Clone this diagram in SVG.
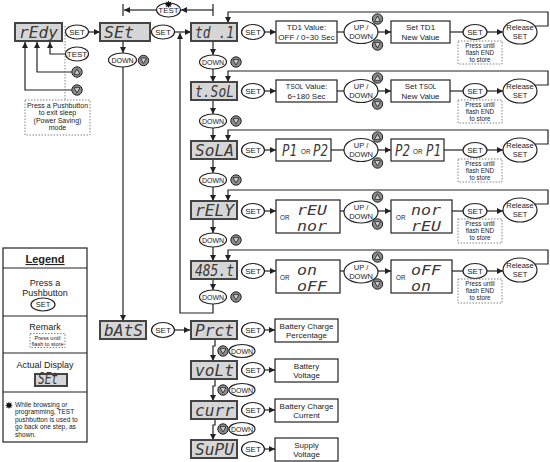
<svg xmlns="http://www.w3.org/2000/svg" width="550" height="462" viewBox="0 0 550 462">
<defs>
<marker id="ah" markerUnits="userSpaceOnUse" viewBox="0 0 10 10" refX="10" refY="5" markerWidth="6" markerHeight="6" orient="auto"><path d="M0,0L10,5L0,10z" fill="#222"/></marker>
<g id="bu"><circle r="5.2" fill="#8a8a8a" stroke="#222" stroke-width="1"/><path d="M-3,2.4L3,2.4L0,-3z" fill="#cfcfcf" stroke="#222" stroke-width="0.8"/></g>
<g id="bd"><circle r="5.2" fill="#8a8a8a" stroke="#222" stroke-width="1"/><path d="M-3,-2.4L3,-2.4L0,3z" fill="#cfcfcf" stroke="#222" stroke-width="0.8"/></g>
</defs>
<style>
.ln{stroke:#222;stroke-width:1.2;fill:none}
.el{fill:#fff;stroke:#222;stroke-width:1.2}
.bx{fill:#fff;stroke:#222;stroke-width:1.2}
.disp{fill:#d6d6d6;stroke:#444;stroke-width:2}
.dash{fill:#fff;stroke:#666;stroke-width:0.8;stroke-dasharray:1.5 1.5}
.t{font-family:"Liberation Sans",Arial,sans-serif;fill:#222;text-anchor:middle}
.tl{font-family:"Liberation Sans",Arial,sans-serif;fill:#222;text-anchor:start}
.s8{font-size:8px}.s75{font-size:7.5px}.s7{font-size:7px}.s6{font-size:6.3px}
.seg{font-family:"DejaVu Sans Mono",monospace;font-style:italic;fill:#3a3a3a;font-size:15px}
.segm{font-family:"DejaVu Sans Mono",monospace;font-style:italic;fill:#3a3a3a;font-size:14px}
</style>

<g id="connectors" class="ln">
<path d="M88.5,32H100" marker-end="url(#ah)"/>
<path d="M65.5,54H50V42" marker-end="url(#ah)"/>
<path d="M71.8,72H37V42" marker-end="url(#ah)"/>
<path d="M71.8,90H25V42" marker-end="url(#ah)"/>
<path d="M174.5,32H191" marker-end="url(#ah)"/>
<path d="M123,41V53" marker-end="url(#ah)"/>
<path d="M123,67V321" marker-end="url(#ah)"/>
<path d="M213,4V16M123,4V16"/>
<path d="M213,10H181" marker-end="url(#ah)"/>
<path d="M156,10H124" marker-end="url(#ah)"/>
<path d="M213,304V313H180V33" marker-end="url(#ah)"/>
<path d="M213,41V55" marker-end="url(#ah)"/>
<path d="M213,69V82" marker-end="url(#ah)"/>
<path d="M213,100V114" marker-end="url(#ah)"/>
<path d="M213,128V141" marker-end="url(#ah)"/>
<path d="M213,159V173" marker-end="url(#ah)"/>
<path d="M213,187V201" marker-end="url(#ah)"/>
<path d="M213,219V233" marker-end="url(#ah)"/>
<path d="M213,247V261" marker-end="url(#ah)"/>
<path d="M213,279V290" marker-end="url(#ah)"/>
<path d="M535,26H548V12H228V23" marker-end="url(#ah)"/>
<path d="M535,85H548V71H228V82" marker-end="url(#ah)"/>
<path d="M535,144H548V130H228V141" marker-end="url(#ah)"/>
<path d="M535,204H548V190H228V201" marker-end="url(#ah)"/>
<path d="M535,264H548V250H228V261" marker-end="url(#ah)"/>
<path d="M264.5,32H276" marker-end="url(#ah)"/><path d="M337,32H344"/><path d="M378,32H391" marker-end="url(#ah)"/><path d="M450,32H463"/><path d="M487,32H503" marker-end="url(#ah)"/>
<path d="M264.5,91H276" marker-end="url(#ah)"/><path d="M337,91H344"/><path d="M378,91H391" marker-end="url(#ah)"/><path d="M450,91H463"/><path d="M487,91H503" marker-end="url(#ah)"/>
<path d="M264.5,150H276" marker-end="url(#ah)"/><path d="M331,150H344"/><path d="M378,150H391" marker-end="url(#ah)"/><path d="M444,150H463"/><path d="M487,150H503" marker-end="url(#ah)"/>
<path d="M264.5,211H276" marker-end="url(#ah)"/><path d="M340,211H344"/><path d="M378,211H391" marker-end="url(#ah)"/><path d="M452,211H463"/><path d="M487,211H503" marker-end="url(#ah)"/>
<path d="M264.5,271H276" marker-end="url(#ah)"/><path d="M340,271H344"/><path d="M378,271H391" marker-end="url(#ah)"/><path d="M452,271H463"/><path d="M487,271H503" marker-end="url(#ah)"/>
<path d="M174.5,330H190" marker-end="url(#ah)"/>
<path d="M264.5,330H275" marker-end="url(#ah)"/>
<path d="M264.5,370H275" marker-end="url(#ah)"/>
<path d="M264.5,410H275" marker-end="url(#ah)"/>
<path d="M264.5,449H275" marker-end="url(#ah)"/>
<path d="M215,339V346H213V361" marker-end="url(#ah)"/>
<path d="M215,379V386H213V401" marker-end="url(#ah)"/>
<path d="M215,419V425H213V440" marker-end="url(#ah)"/>
</g>

<g id="n-rEdy"><rect class="disp" x="15" y="23" width="47" height="18"/><text class="seg" x="19" y="37.5" textLength="39" lengthAdjust="spacingAndGlyphs">rEdy</text></g>
<g id="n-set-a"><ellipse class="el" cx="77" cy="32" rx="11.5" ry="7"/><text class="t s8" x="77" y="34.8">SET</text></g>
<g id="n-test-a"><ellipse class="el" cx="77" cy="54" rx="11.5" ry="7"/><text class="t s8" x="77" y="56.8">TEST</text></g>
<g id="n-up-a"><use href="#bu" x="77" y="72"/></g>
<g id="n-down-a"><use href="#bd" x="77" y="90"/></g>
<g id="n-sleep-note"><path class="dash" d="M65,26V100" fill="none"/><rect class="dash" x="25" y="100" width="65" height="35"/>
<text class="t s7" x="57.5" y="107.5">Press a Pushbutton</text><text class="t s7" x="57.5" y="115">to exit sleep</text><text class="t s7" x="57.5" y="122.5">(Power Saving)</text><text class="t s7" x="57.5" y="130">mode</text></g>

<g id="n-SEt"><rect class="disp" x="100" y="23" width="50" height="18"/><text class="seg" x="104" y="37.5" textLength="30" lengthAdjust="spacingAndGlyphs">SEt</text></g>
<g id="n-set-b"><ellipse class="el" cx="163" cy="32" rx="11.5" ry="7"/><text class="t s8" x="163" y="34.8">SET</text></g>
<g id="n-down-b"><ellipse class="el" cx="122.5" cy="60" rx="14" ry="7"/><text class="t s7" x="122.5" y="62.5">DOWN</text><use href="#bd" x="143.5" y="60.5"/></g>
<g id="n-test-b"><ellipse class="el" cx="168.5" cy="10" rx="12" ry="7"/><text class="t s8" x="168.5" y="12.8">TEST</text>
<path d="M168.5,0.5L169.3,2.4L171.3,1.6L170.5,3.5L172.4,4.3L170.5,5.1L171.3,7L169.3,6.2L168.5,8.1L167.7,6.2L165.7,7L166.5,5.1L164.6,4.3L166.5,3.5L165.7,1.6L167.7,2.4z" fill="#111"/></g>

<g id="n-td1"><rect class="disp" x="191" y="23" width="46" height="18"/><text class="seg" x="195" y="37.5" textLength="39" lengthAdjust="spacingAndGlyphs">td .1</text></g>
<g id="n-td1-set"><ellipse class="el" cx="253" cy="32" rx="11.5" ry="7.5"/><text class="t s8" x="253" y="34.8">SET</text></g>
<g id="n-td1-val"><rect class="bx" x="276" y="21" width="61" height="22"/><text class="t s8" x="306.5" y="30">TD1 Value:</text><text class="t s8" x="306.5" y="39.5">OFF / 0÷30 Sec</text></g>
<g id="n-td1-ud"><ellipse class="el" cx="361" cy="32" rx="17" ry="11.5"/><text class="t s75" x="361" y="30">UP /</text><text class="t s75" x="361" y="38.5">DOWN</text><use href="#bu" x="377.5" y="19"/><use href="#bd" x="377.5" y="45"/></g>
<g id="n-td1-new"><rect class="bx" x="391" y="21" width="59" height="22"/><text class="t s8" x="420.5" y="30">Set TD1</text><text class="t s8" x="420.5" y="39.5">New Value</text></g>
<g id="n-td1-set2"><ellipse class="el" cx="475" cy="32" rx="12" ry="7.5"/><text class="t s8" x="475" y="34.8">SET</text></g>
<g id="n-td1-rel"><ellipse class="el" cx="520" cy="32" rx="17" ry="12"/><text class="t s75" x="520" y="30">Release</text><text class="t s75" x="520" y="38.5">SET</text></g>
<g id="n-td1-note"><rect class="dash" x="458" y="41" width="44" height="23"/><text class="t s6" x="480" y="47.5">Press until</text><text class="t s6" x="480" y="54.5">flash END</text><text class="t s6" x="480" y="61.5">to store</text></g>
<g id="n-td1-down"><ellipse class="el" cx="213" cy="62" rx="13.5" ry="7"/><text class="t s7" x="213" y="64.5">DOWN</text><use href="#bd" x="236" y="62"/></g>

<g id="n-tsol"><rect class="disp" x="191" y="82" width="46" height="18"/><text class="seg" x="195" y="96.5" textLength="39" lengthAdjust="spacingAndGlyphs">t.SoL</text></g>
<g id="n-tsol-set"><ellipse class="el" cx="253" cy="91" rx="11.5" ry="7.5"/><text class="t s8" x="253" y="93.8">SET</text></g>
<g id="n-tsol-val"><rect class="bx" x="276" y="80" width="61" height="22"/><text class="t s8" x="306.5" y="89">T<tspan font-size="6.3">SOL</tspan> Value:</text><text class="t s8" x="306.5" y="98.5">6÷180 Sec</text></g>
<g id="n-tsol-ud"><ellipse class="el" cx="361" cy="91" rx="17" ry="11.5"/><text class="t s75" x="361" y="89">UP /</text><text class="t s75" x="361" y="97.5">DOWN</text><use href="#bu" x="377.5" y="78"/><use href="#bd" x="377.5" y="104"/></g>
<g id="n-tsol-new"><rect class="bx" x="391" y="80" width="59" height="22"/><text class="t s8" x="420.5" y="89">Set T<tspan font-size="6.3">SOL</tspan></text><text class="t s8" x="420.5" y="98.5">New Value</text></g>
<g id="n-tsol-set2"><ellipse class="el" cx="475" cy="91" rx="12" ry="7.5"/><text class="t s8" x="475" y="93.8">SET</text></g>
<g id="n-tsol-rel"><ellipse class="el" cx="520" cy="91" rx="17" ry="12"/><text class="t s75" x="520" y="89">Release</text><text class="t s75" x="520" y="97.5">SET</text></g>
<g id="n-tsol-note"><rect class="dash" x="458" y="100" width="44" height="23"/><text class="t s6" x="480" y="106.5">Press until</text><text class="t s6" x="480" y="113.5">flash END</text><text class="t s6" x="480" y="120.5">to store</text></g>
<g id="n-tsol-down"><ellipse class="el" cx="213" cy="121" rx="13.5" ry="7"/><text class="t s7" x="213" y="123.5">DOWN</text><use href="#bd" x="236" y="121"/></g>

<g id="n-sola"><rect class="disp" x="191" y="141" width="46" height="18"/><text class="seg" x="195" y="155.5" textLength="39" lengthAdjust="spacingAndGlyphs">SoLA</text></g>
<g id="n-sola-set"><ellipse class="el" cx="253" cy="150" rx="11.5" ry="7.5"/><text class="t s8" x="253" y="152.8">SET</text></g>
<g id="n-sola-val"><rect class="bx" x="276" y="139" width="55" height="22"/><text class="seg" x="282" y="156" textLength="15" lengthAdjust="spacingAndGlyphs">P1</text><text class="tl s6" x="301" y="154">OR</text><text class="seg" x="313" y="156" textLength="15" lengthAdjust="spacingAndGlyphs">P2</text></g>
<g id="n-sola-ud"><ellipse class="el" cx="361" cy="150" rx="17" ry="11.5"/><text class="t s75" x="361" y="148">UP /</text><text class="t s75" x="361" y="156.5">DOWN</text><use href="#bu" x="377.5" y="137"/><use href="#bd" x="377.5" y="163"/></g>
<g id="n-sola-new"><rect class="bx" x="391" y="139" width="53" height="22"/><text class="seg" x="395" y="156" textLength="15" lengthAdjust="spacingAndGlyphs">P2</text><text class="tl s6" x="413" y="154">OR</text><text class="seg" x="426" y="156" textLength="15" lengthAdjust="spacingAndGlyphs">P1</text></g>
<g id="n-sola-set2"><ellipse class="el" cx="475" cy="150" rx="12" ry="7.5"/><text class="t s8" x="475" y="152.8">SET</text></g>
<g id="n-sola-rel"><ellipse class="el" cx="520" cy="150" rx="17" ry="12"/><text class="t s75" x="520" y="148">Release</text><text class="t s75" x="520" y="156.5">SET</text></g>
<g id="n-sola-note"><rect class="dash" x="458" y="159" width="44" height="23"/><text class="t s6" x="480" y="165.5">Press until</text><text class="t s6" x="480" y="172.5">flash END</text><text class="t s6" x="480" y="179.5">to store</text></g>
<g id="n-sola-down"><ellipse class="el" cx="213" cy="180" rx="13.5" ry="7"/><text class="t s7" x="213" y="182.5">DOWN</text><use href="#bd" x="236" y="180"/></g>

<g id="n-rely"><rect class="disp" x="191" y="201" width="46" height="18"/><text class="seg" x="195" y="215.5" textLength="39" lengthAdjust="spacingAndGlyphs">rELY</text></g>
<g id="n-rely-set"><ellipse class="el" cx="253" cy="211" rx="11.5" ry="7.5"/><text class="t s8" x="253" y="213.8">SET</text></g>
<g id="n-rely-val"><rect class="bx" x="276" y="200" width="64" height="33"/><text class="tl s6" x="280" y="220">OR</text><text class="segm" x="297" y="215" textLength="30" lengthAdjust="spacingAndGlyphs">rEU</text><text class="segm" x="297" y="231" textLength="30" lengthAdjust="spacingAndGlyphs">nor</text></g>
<g id="n-rely-ud"><ellipse class="el" cx="361" cy="212" rx="17" ry="11"/><text class="t s75" x="361" y="210">UP /</text><text class="t s75" x="361" y="218.5">DOWN</text><use href="#bu" x="377.5" y="197"/><use href="#bd" x="377.5" y="224"/></g>
<g id="n-rely-new"><rect class="bx" x="391" y="200" width="61" height="33"/><text class="tl s6" x="396" y="220">OR</text><text class="segm" x="411" y="215" textLength="30" lengthAdjust="spacingAndGlyphs">nor</text><text class="segm" x="411" y="231" textLength="30" lengthAdjust="spacingAndGlyphs">rEU</text></g>
<g id="n-rely-set2"><ellipse class="el" cx="475" cy="211" rx="12" ry="7.5"/><text class="t s8" x="475" y="213.8">SET</text></g>
<g id="n-rely-rel"><ellipse class="el" cx="520" cy="210" rx="17" ry="12"/><text class="t s75" x="520" y="208">Release</text><text class="t s75" x="520" y="216.5">SET</text></g>
<g id="n-rely-note"><rect class="dash" x="458" y="219" width="44" height="24"/><text class="t s6" x="480" y="226">Press until</text><text class="t s6" x="480" y="233">flash END</text><text class="t s6" x="480" y="240">to store</text></g>
<g id="n-rely-down"><ellipse class="el" cx="213" cy="240" rx="13.5" ry="7"/><text class="t s7" x="213" y="242.5">DOWN</text><use href="#bd" x="236" y="240"/></g>

<g id="n-485t"><rect class="disp" x="191" y="261" width="46" height="18"/><text class="seg" x="195" y="275.5" textLength="39" lengthAdjust="spacingAndGlyphs">485.t</text></g>
<g id="n-485t-set"><ellipse class="el" cx="253" cy="271" rx="11.5" ry="7.5"/><text class="t s8" x="253" y="273.8">SET</text></g>
<g id="n-485t-val"><rect class="bx" x="276" y="260" width="64" height="33"/><text class="tl s6" x="280" y="280">OR</text><text class="segm" x="297" y="275" textLength="20" lengthAdjust="spacingAndGlyphs">on</text><text class="segm" x="297" y="291" textLength="30" lengthAdjust="spacingAndGlyphs">oFF</text></g>
<g id="n-485t-ud"><ellipse class="el" cx="361" cy="272" rx="17" ry="11"/><text class="t s75" x="361" y="270">UP /</text><text class="t s75" x="361" y="278.5">DOWN</text><use href="#bu" x="377.5" y="257"/><use href="#bd" x="377.5" y="284"/></g>
<g id="n-485t-new"><rect class="bx" x="391" y="260" width="61" height="33"/><text class="tl s6" x="396" y="280">OR</text><text class="segm" x="411" y="275" textLength="30" lengthAdjust="spacingAndGlyphs">oFF</text><text class="segm" x="411" y="291" textLength="20" lengthAdjust="spacingAndGlyphs">on</text></g>
<g id="n-485t-set2"><ellipse class="el" cx="475" cy="271" rx="12" ry="7.5"/><text class="t s8" x="475" y="273.8">SET</text></g>
<g id="n-485t-rel"><ellipse class="el" cx="520" cy="270" rx="17" ry="12"/><text class="t s75" x="520" y="268">Release</text><text class="t s75" x="520" y="276.5">SET</text></g>
<g id="n-485t-note"><rect class="dash" x="458" y="279" width="44" height="24"/><text class="t s6" x="480" y="286">Press until</text><text class="t s6" x="480" y="293">flash END</text><text class="t s6" x="480" y="300">to store</text></g>
<g id="n-485t-down"><ellipse class="el" cx="213" cy="297" rx="13.5" ry="7"/><text class="t s7" x="213" y="299.5">DOWN</text><use href="#bd" x="236" y="297"/></g>

<g id="n-bats"><rect class="disp" x="100" y="321" width="46" height="18"/><text class="seg" x="104" y="335.5" textLength="39" lengthAdjust="spacingAndGlyphs">bAtS</text></g>
<g id="n-bats-set"><ellipse class="el" cx="163" cy="330" rx="11.5" ry="7.5"/><text class="t s8" x="163" y="332.8">SET</text></g>
<g id="n-prct"><rect class="disp" x="191" y="321" width="46" height="18"/><text class="seg" x="195" y="335.5" textLength="39" lengthAdjust="spacingAndGlyphs">Prct</text></g>
<g id="n-prct-set"><ellipse class="el" cx="253" cy="330" rx="11.5" ry="7.5"/><text class="t s8" x="253" y="332.8">SET</text></g>
<g id="n-prct-box"><rect class="bx" x="275" y="319" width="63" height="23"/><text class="t s8" x="306.5" y="328.5">Battery Charge</text><text class="t s8" x="306.5" y="338">Percentage</text></g>
<g id="n-prct-down"><use href="#bd" x="223" y="351"/><ellipse class="el" cx="242" cy="351" rx="13" ry="6.5"/><text class="t s7" x="242" y="353.5">DOWN</text></g>
<g id="n-volt"><rect class="disp" x="191" y="361" width="46" height="18"/><text class="seg" x="195" y="375.5" textLength="39" lengthAdjust="spacingAndGlyphs">voLt</text></g>
<g id="n-volt-set"><ellipse class="el" cx="253" cy="370" rx="11.5" ry="7.5"/><text class="t s8" x="253" y="372.8">SET</text></g>
<g id="n-volt-box"><rect class="bx" x="275" y="359" width="63" height="23"/><text class="t s8" x="306.5" y="368.5">Battery</text><text class="t s8" x="306.5" y="378">Voltage</text></g>
<g id="n-volt-down"><use href="#bd" x="223" y="390"/><ellipse class="el" cx="242" cy="390" rx="13" ry="6.5"/><text class="t s7" x="242" y="392.5">DOWN</text></g>
<g id="n-curr"><rect class="disp" x="191" y="401" width="46" height="18"/><text class="seg" x="195" y="415.5" textLength="39" lengthAdjust="spacingAndGlyphs">curr</text></g>
<g id="n-curr-set"><ellipse class="el" cx="253" cy="410" rx="11.5" ry="7.5"/><text class="t s8" x="253" y="412.8">SET</text></g>
<g id="n-curr-box"><rect class="bx" x="275" y="399" width="63" height="23"/><text class="t s8" x="306.5" y="408.5">Battery Charge</text><text class="t s8" x="306.5" y="418">Current</text></g>
<g id="n-curr-down"><use href="#bd" x="223" y="429"/><ellipse class="el" cx="242" cy="429" rx="13" ry="6.5"/><text class="t s7" x="242" y="431.5">DOWN</text></g>
<g id="n-supu"><rect class="disp" x="191" y="440" width="46" height="18"/><text class="seg" x="195" y="454.5" textLength="39" lengthAdjust="spacingAndGlyphs">SuPU</text></g>
<g id="n-supu-set"><ellipse class="el" cx="253" cy="449" rx="11.5" ry="7.5"/><text class="t s8" x="253" y="451.8">SET</text></g>
<g id="n-supu-box"><rect class="bx" x="275" y="438" width="63" height="23"/><text class="t s8" x="306.5" y="447.5">Supply</text><text class="t s8" x="306.5" y="457">Voltage</text></g>

<g id="legend">
<rect x="3" y="248" width="84" height="194" fill="#fff" stroke="#222" stroke-width="1.2"/>
<path class="ln" d="M3,268H87M3,316H87M3,353H87M3,392H87"/>
<text class="t" x="45" y="263" font-size="11" font-weight="bold" text-decoration="underline">Legend</text>
<text class="t" x="45" y="285.5" font-size="9">Press a</text>
<text class="t" x="45" y="295.5" font-size="9">Pushbutton</text>
<ellipse class="el" cx="43" cy="304.5" rx="12" ry="6.5"/><text class="t s75" x="43" y="307.2">SET</text>
<text class="t" x="45" y="330" font-size="9">Remark</text>
<rect class="dash" x="30" y="333.5" width="35" height="14"/>
<text class="t" x="47.5" y="339.5" font-size="5.6">Press until</text>
<text class="t" x="47.5" y="345.5" font-size="5.6">flash to store</text>
<text class="t" x="45" y="368" font-size="9">Actual Display</text>
<rect class="disp" x="35" y="374" width="32" height="12"/><text class="seg" x="38" y="384" font-size="10" textLength="20" lengthAdjust="spacingAndGlyphs">SEt</text>
<path d="M9,401.5L9.8,403.4L11.8,402.6L11,404.5L12.9,405.3L11,406.1L11.8,408L9.8,407.2L9,409.1L8.2,407.2L6.2,408L7,406.1L5.1,405.3L7,404.5L6.2,402.6L8.2,403.4z" fill="#111"/>
<text class="tl" x="15" y="406.5" font-size="6.6">While browsing or</text>
<text class="tl" x="15" y="414" font-size="6.6">programming, TEST</text>
<text class="tl" x="15" y="421.5" font-size="6.6">pushbutton is used to</text>
<text class="tl" x="15" y="429" font-size="6.6">go back one step, as</text>
<text class="tl" x="15" y="436.5" font-size="6.6">shown.</text>
</g>
</svg>
